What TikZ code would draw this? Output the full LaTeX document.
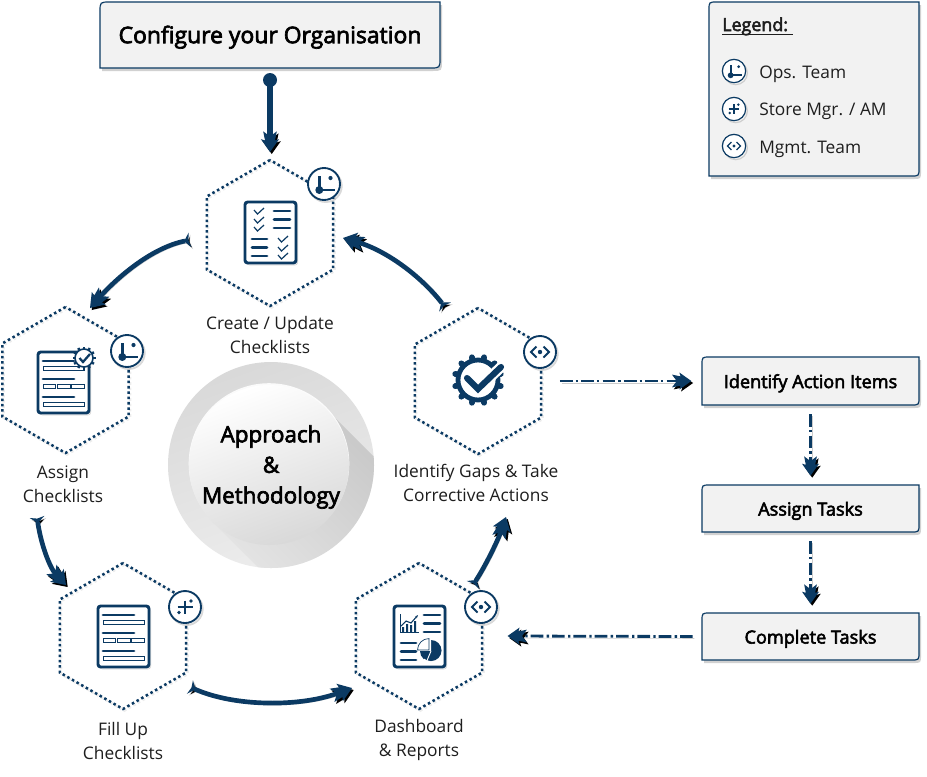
\documentclass[tikz,border=0pt]{standalone}
\usepackage{fontspec}
\setmainfont{Open Sans}
\newfontfamily\semifont[FakeBold=3]{Open Sans}
\usetikzlibrary{arrows.meta,shapes.geometric,calc}
\definecolor{navy}{HTML}{0B3A63}
\definecolor{boxfill}{HTML}{F2F2F2}
\definecolor{ink}{HTML}{1E1E1E}
\pgfdeclarearrow{
  name=DblChev,
  parameters={\the\pgfarrowlength},
  setup code={
    \pgfarrowssettipend{0pt}
    \pgfarrowssetlineend{-.7\pgfarrowlength}
    \pgfarrowssetbackend{-\pgfarrowlength}
    \pgfarrowssetvisualbackend{-.75\pgfarrowlength}
    \pgfarrowssavethe\pgfarrowlength
  },
  drawing code={
    \pgfpathmoveto{\pgfqpoint{0pt}{0pt}}
    \pgfpathlineto{\pgfqpoint{-.62\pgfarrowlength}{.44\pgfarrowlength}}
    \pgfpathlineto{\pgfqpoint{-.56\pgfarrowlength}{.24\pgfarrowlength}}
    \pgfpathlineto{\pgfqpoint{-1\pgfarrowlength}{.33\pgfarrowlength}}
    \pgfpathlineto{\pgfqpoint{-.75\pgfarrowlength}{0pt}}
    \pgfpathlineto{\pgfqpoint{-1\pgfarrowlength}{-.33\pgfarrowlength}}
    \pgfpathlineto{\pgfqpoint{-.56\pgfarrowlength}{-.24\pgfarrowlength}}
    \pgfpathlineto{\pgfqpoint{-.62\pgfarrowlength}{-.44\pgfarrowlength}}
    \pgfpathclose
    \pgfusepathqfill
  },
  defaults={length=15pt}
}
\def\boxtexth{10.6pt}
\tikzset{
  softshadow/.style={preaction={draw=black,draw opacity=.2,transform canvas={xshift=1.3pt,yshift=-1.5pt}}},
  hexnode/.style={regular polygon,regular polygon sides=6,shape border rotate=30,minimum size=109.5pt,inner sep=0pt,outer sep=0pt,draw=navy,line width=1.9pt,dash pattern=on 1.9pt off 2.1pt,preaction={draw=black,draw opacity=.07,transform canvas={xshift=1pt,yshift=-1.2pt}}},
  hexlabel/.style={align=center,text=ink,font=\fontsize{13pt}{18pt}\selectfont,inner sep=0pt},
  boxtext/.style={inner sep=0pt,outer sep=0pt,text=black,align=center,text height=\boxtexth,text depth=0pt},
  badgecirc/.style={circle,draw=navy,fill=white,line width=1.4pt,inner sep=0pt,outer sep=0pt,preaction={draw=black,draw opacity=.15,transform canvas={xshift=1.3pt,yshift=-1.5pt}}},
  loopflow/.style={draw=navy,line width=3.5pt,{Stealth[reversed,length=4.5pt,width=11pt,inset=1.2pt]}-{DblChev[length=16pt]},softshadow},
  dashflow/.style={draw=navy,line width=2.1pt,dash pattern=on 9.5pt off 2.2pt on 1.8pt off 2.5pt,-{DblChev[length=14.5pt]},softshadow},
  iconline/.style={draw=navy,line width=2.2pt,line cap=round},
  iconframe/.style={draw=navy,line width=2.2pt,fill=white,rounded corners=2pt,softshadow},
  thinbox/.style={draw=navy,line width=.6pt,fill=white},
}
% diagonal-rounded box: name, x1, y1, x2, y2, radius, text font, text
\newcommand{\diagbox}[8]{%
  \fill[black,opacity=.18] ({#2+#6+2},{#3+3}) -- ({#4+2},{#3+3}) -- ({#4+2},{#5-#6+3}) .. controls ({#4+2},{#5+3}) .. ({#4-#6+2},{#5+3}) -- ({#2+2},{#5+3}) -- ({#2+2},{#3+#6+3}) -- cycle;
  \draw[navy,line width=.9pt,fill=boxfill] (#2,{#3+#6}) .. controls (#2,#3) .. ({#2+#6},#3) -- (#4,#3) -- (#4,{#5-#6}) .. controls (#4,#5) .. ({#4-#6},#5) -- (#2,#5) -- cycle;
  \node[boxtext,minimum width={(#4-#2)*.75pt},minimum height={(#5-#3)*.75pt},font=#7] (#1) at ({(#2+#4)/2},{(#3+#5)/2}) {#8};
}
\newdimen\glyphw
\newcommand{\clockglyph}{%
  \draw[navy,line width=1.45\glyphw] (-4.7,-8) -- (-4.7,6) -- (11,6);
  \fill[navy] (-4.7,6) circle (4);
  \fill[navy] (6.5,-6) circle (2.1);
}
\newcommand{\plusglyph}{%
  \draw[navy,line width=\glyphw] (-7.5,0) -- (7.5,0) (0,-6.5) -- (0,7);
  \fill[navy] (-6,5.5) circle (1.9) (6,-6) circle (1.9);
}
\newcommand{\codeglyph}{%
  \draw[navy,line width=\glyphw] (-3.5,-5.5) -- (-9,0) -- (-3.5,5.5) (3.5,-5.5) -- (9,0) -- (3.5,5.5);
  \fill[navy] (0,0) circle (2.2);
}
\newcommand{\formicon}[2]{%
  \begin{scope}[shift={(#1,#2)}]
    \draw[iconframe] (0,0) rectangle (51,61);
    \draw[iconline] (5,9) -- (36,9) (5,27) -- (36,27) (5,45) -- (36,45);
    \draw[thinbox] (5,14) rectangle (46,18);
    \draw[thinbox] (5,32) rectangle (17,36) (19,32) rectangle (32,36) (33,32) rectangle (46,36);
    \draw[thinbox] (5,50) rectangle (46,54);
  \end{scope}
}
\begin{document}
\begin{tikzpicture}[x=.75pt,y=-.75pt]
\useasboundingbox (0,0) rectangle (927,776);
\fill[white] (0,0) rectangle (927,776);
\glyphw=1.5pt

% central disc
\node[circle,minimum size=154.5pt,inner sep=0pt,outer sep=0pt,shading=axis,left color=black!15,right color=black!7,shading angle=20] (discOuter) at (271,465) {};
\begin{scope}
  \clip (271,465) circle (103);
  \shade[shading=axis,top color=black!24,bottom color=black!8,shading angle=-45,draw=none]
    (325.6,408.4) -- (470,553) -- (357,666) -- (212.4,521.6) -- cycle;
\end{scope}
\fill[white,opacity=.9] (269,463.5) circle (80.3);
\node[circle,minimum size=120pt,inner sep=0pt,outer sep=0pt,shading=axis,left color=white,right color=black!15,shading angle=20] (discInner) at (269,465) {};
\node[inner sep=0pt,align=center,text=black,font=\semifont\fontsize{16.8pt}{22.9pt}\selectfont] (discText) at (271,467) {Approach\\\&\\Methodology};

% hexagons
\node[hexnode] (hexCreate) at (270,233) {};
\node[hexnode] (hexAssign) at (65.5,380) {};
\node[hexnode] (hexFill) at (123,636) {};
\node[hexnode] (hexDash) at (419,636) {};
\node[hexnode] (hexGaps) at (478,381) {};

% hex labels
\node[hexlabel] (lblCreate) at (270,335) {Create / Update\\Checklists};
\node[hexlabel] (lblAssign) at (63,484) {Assign\\Checklists};
\node[hexlabel] (lblFill) at (123,741) {Fill Up\\Checklists};
\node[hexlabel] (lblDash) at (419,740) {Dashboard\\\& Reports};
\node[hexlabel] (lblGaps) at (476,483) {Identify Gaps \& Take\\Corrective Actions};

% badges
\node[badgecirc,minimum size=24pt] (bCreate) at (324,184) {};
\begin{scope}[shift={(bCreate.center)}]\clockglyph\end{scope}
\node[badgecirc,minimum size=24pt] (bAssign) at (127,351) {};
\begin{scope}[shift={(bAssign.center)}]\clockglyph\end{scope}
\node[badgecirc,minimum size=24pt] (bFill) at (185,607) {};
\begin{scope}[shift={(bFill.center)}]\plusglyph\end{scope}
\node[badgecirc,minimum size=24pt] (bDash) at (481,607) {};
\begin{scope}[shift={(bDash.center)}]\codeglyph\end{scope}
\node[badgecirc,minimum size=24pt] (bGaps) at (540,352) {};
\begin{scope}[shift={(bGaps.center)}]\codeglyph\end{scope}

% icon: checklist
\draw[iconframe] (245,202) rectangle (296,263);
\draw[iconline] (274,211) -- (290,211) (274,219.5) -- (290,219.5) (274,228) -- (290,228);
\draw[iconline] (252,239) -- (267,239) (252,247.5) -- (267,247.5) (252,256) -- (267,256);
\foreach \cx/\cy in {254/211,254/220,254/228,278/239,278/248,278/256}
  \draw[navy,line width=.9pt] (\cx,\cy-1) -- (\cx+3.5,\cy+3) -- (\cx+10,\cy-3);

% icon: assign
\formicon{38}{352}
\foreach \a in {0,30,...,330}
  \draw[navy,line width=1.8pt] (84,358) ++(\a:8.5) -- ++(\a:3);
\draw[navy,fill=white,line width=1.2pt] (84,358) circle (9);
\draw[navy,line width=1.7pt] (79.5,358) -- (83,362) -- (90,354);

% icon: fill up
\formicon{98}{606}

% icon: dashboard
\draw[iconframe] (394,606) rectangle (445,667);
\draw[iconline] (424,615) -- (440,615) (424,623.5) -- (440,623.5) (424,632) -- (440,632);
\draw[iconline] (401,643) -- (416,643) (401,651.5) -- (416,651.5) (401,660) -- (416,660);
\draw[navy,line width=.5pt] (400,614) -- (400,632) -- (419,632);
\fill[navy] (402,627) rectangle (404,632) (406,624) rectangle (408,632) (410,625) rectangle (412,632) (414,621) rectangle (416,632);
\draw[navy,line width=.8pt,-{Stealth[length=2.5pt]}] (401,626) -- (406,621) -- (411,623) -- (418,615);
\fill[navy] (431,650.5) -- (431,640) arc[start angle=90,end angle=-250,radius=7.9pt] -- cycle;
\fill[white] (431,651) -- (431,638) -- (418,651) -- cycle;
\draw[navy,line width=.5pt,fill=white] (429,650) -- (417.5,650) arc[start angle=180,end angle=90,radius=8.6pt] -- cycle;
\fill[navy] (431,651) -- (420,651) arc[start angle=180,end angle=230,radius=8pt] -- cycle;
\draw[white,line width=.7pt] (431,651) -- (426,663);

% icon: gear check
\foreach \a in {15,45,...,345}
  \draw[navy,line width=4.4pt,line cap=round] (478,380) ++(\a:21) -- ++(\a:2.5);
\draw[navy,line width=3.6pt] (478,380) circle (20);
\draw[white,line width=8pt] (467,378) -- (478,389) -- (503,365);
\draw[navy,line width=4.6pt,line cap=round] (467,378) -- (478,389) -- (501,367);

% top box & legend
\def\boxtexth{12.3pt}
\diagbox{cfg}{100}{2}{440}{68}{10}{\semifont\fontsize{17.2pt}{20pt}\selectfont}{Configure your Organisation}
\def\boxtexth{10.6pt}
\diagbox{legend}{709}{2}{919}{176}{8}{\fontsize{1pt}{1pt}\selectfont}{}
\node[inner sep=0pt,anchor=base west,text=ink,font=\semifont\fontsize{13.4pt}{16pt}\selectfont] (legendTitle) at (722,31) {Legend:};
\draw[ink,line width=.8pt] (722,34.5) -- (793,34.5);
\glyphw=1pt
\node[badgecirc,minimum size=17.5pt,line width=.9pt] (lgOps) at (734,71) {};
\begin{scope}[shift={(lgOps.center)},scale=.72]\clockglyph\end{scope}
\node[badgecirc,minimum size=17.5pt,line width=.9pt] (lgStore) at (734,109) {};
\begin{scope}[shift={(lgStore.center)},scale=.72]\plusglyph\end{scope}
\node[badgecirc,minimum size=17.5pt,line width=.9pt] (lgMgmt) at (734,146) {};
\begin{scope}[shift={(lgMgmt.center)},scale=.72]\codeglyph\end{scope}
\node[inner sep=0pt,anchor=west,text=ink,font=\fontsize{13pt}{16pt}\selectfont] (txtOps) at (759,74) {Ops. Team};
\node[inner sep=0pt,anchor=west,text=ink,font=\fontsize{13pt}{16pt}\selectfont] (txtStore) at (759,111) {Store Mgr. / AM};
\node[inner sep=0pt,anchor=west,text=ink,font=\fontsize{13pt}{16pt}\selectfont] (txtMgmt) at (759,149) {Mgmt. Team};

% action boxes
\diagbox{actItems}{702}{357}{919}{405}{8}{\semifont\fontsize{13.6pt}{16pt}\selectfont}{Identify Action Items}
\diagbox{actAssign}{702}{485}{919}{532}{8}{\semifont\fontsize{13.6pt}{16pt}\selectfont}{Assign Tasks}
\diagbox{actDone}{702}{613}{919}{660}{8}{\semifont\fontsize{13.6pt}{16pt}\selectfont}{Complete Tasks}

% start connector
\fill[navy] (270,80) circle (7);
\draw[draw=navy,line width=3.8pt,-{DblChev[length=15.5pt]},softshadow] ([yshift=-9pt]cfg.south) -- ([yshift=6pt]hexCreate.north);

% loop connectors
\draw[loopflow] ([shift={(-33,-74)}]hexGaps.center) .. controls (420,275) and (385,250) .. ([shift={(73,5)}]hexCreate.center);
\draw[loopflow] ([shift={(-80,7)}]hexCreate.center) .. controls (150,248) and (115,280) .. ([shift={(24.5,-72)}]hexAssign.center);
\draw[loopflow] ([shift={(-28.5,137)}]hexAssign.center) .. controls (41,545) and (50,568) .. ([shift={(-57,-51)}]hexFill.center);
\draw[loopflow] ([shift={(67,51)}]hexFill.center) .. controls (235,707) and (300,707) .. ([shift={(-67,52)}]hexDash.center);
\draw[loopflow] ([shift={(54,-51)}]hexDash.center) .. controls (486,565) and (498,540) .. ([shift={(28,136)}]hexGaps.center);

% dash-dot connectors
\draw[dashflow] ([xshift=14pt]hexGaps.center -| hexGaps.east) -- ([xshift=-8pt]actItems.west);
\draw[dashflow] ([yshift=-7pt]actItems.south) -- ([yshift=7pt]actAssign.north);
\draw[dashflow] ([yshift=-7pt]actAssign.south) -- ([yshift=7pt]actDone.north);
\draw[dashflow] ([xshift=-7pt]actDone.west) -- ([xshift=19pt]hexDash.center -| hexDash.east);
\end{tikzpicture}
\end{document}
